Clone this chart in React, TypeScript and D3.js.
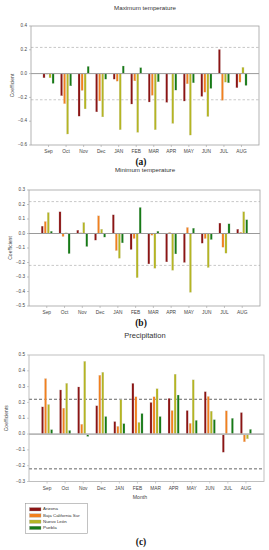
import React, { useEffect, useRef } from "react";
import * as d3 from "d3";

const months = ["Sep", "Oct", "Nov", "Dec", "JAN", "FEB", "MAR", "APR", "MAY", "JUN", "JUL", "AUG"];
const states = ["Arizona", "Baja California Sur", "Nuevo León", "Puebla"];
const colors = ["#8c1414", "#f2801e", "#b5b522", "#167a16"];

// values per month, ordered as in states
const maxTemp = [
  [-0.036, -0.005, -0.036, -0.083],
  [-0.186, -0.253, -0.508, -0.103],
  [-0.358, -0.142, -0.297, 0.061],
  [-0.322, -0.23, -0.364, -0.047],
  [-0.047, -0.064, -0.472, 0.064],
  [-0.256, -0.061, -0.494, 0.05],
  [-0.239, -0.183, -0.472, -0.069],
  [-0.242, -0.004, -0.419, -0.139],
  [-0.231, -0.086, -0.517, -0.078],
  [-0.192, -0.156, -0.361, -0.125],
  [0.203, -0.225, -0.072, -0.078],
  [-0.119, -0.072, 0.053, -0.1],
];

const minTemp = [
  [0.051, 0.083, 0.145, 0.016],
  [0.15, -0.021, 0.005, -0.139],
  [0.023, 0.005, 0.076, -0.09],
  [-0.046, 0.122, 0.03, -0.025],
  [0.129, -0.118, -0.171, -0.065],
  [-0.111, -0.035, -0.305, 0.18],
  [-0.21, -0.012, -0.24, 0.016],
  [-0.196, 0.007, -0.254, -0.141],
  [-0.2, 0.042, -0.406, 0.037],
  [-0.067, -0.035, -0.235, -0.042],
  [0.072, -0.095, -0.136, 0.067],
  [0.03, 0.009, 0.15, 0.095],
];

const precip = [
  [0.172, 0.351, 0.187, 0.028],
  [0.279, 0.164, 0.321, 0.023],
  [0.298, 0.062, 0.46, -0.015],
  [0.179, 0.372, 0.391, 0.111],
  [0.079, 0.049, 0.217, 0.066],
  [0.321, 0.236, 0.074, 0.13],
  [0.2, 0.236, 0.287, 0.111],
  [0.226, 0.149, 0.379, 0.247],
  [0.149, 0.068, 0.343, 0.087],
  [0.268, 0.238, 0.145, 0.091],
  [-0.115, 0.147, 0.002, 0.1],
  [0.136, -0.049, -0.03, 0.03],
];

const threshold = 0.22;

type Panel = {
  data: number[][];
  title: string;
  titleY: number;
  titleSize: number;
  letter: string;
  letterY: number;
  ylabel: string;
  ylabelX: number;
  left: number;
  right: number;
  top: number;
  bottom: number;
  domain: [number, number];
  step: number;
  frame: string;
  dash: string;
  zero: string;
  zeroWidth: number;
};

const panels: Panel[] = [
  {
    data: maxTemp, title: "Maximum temperature", titleY: 8, titleSize: 6.2, letter: "(a)", letterY: 165,
    ylabel: "Coefficient", ylabelX: 13, left: 31, right: 259, top: 26, bottom: 145,
    domain: [-0.6, 0.4], step: 0.2, frame: "#a0a0a0", dash: "#b0b0b0", zero: "#9a9a9a", zeroWidth: 1,
  },
  {
    data: minTemp, title: "Minimum temperature", titleY: 170, titleSize: 6.2, letter: "(b)", letterY: 326,
    ylabel: "Coefficient", ylabelX: 11, left: 29, right: 260, top: 190, bottom: 306,
    domain: [-0.5, 0.3], step: 0.1, frame: "#a0a0a0", dash: "#b0b0b0", zero: "#9a9a9a", zeroWidth: 1,
  },
  {
    data: precip, title: "Precipitation", titleY: 336, titleSize: 7.5, letter: "(c)", letterY: 545,
    ylabel: "Coefficients", ylabelX: 7, left: 29, right: 264, top: 355, bottom: 481.5,
    domain: [-0.3, 0.5], step: 0.1, frame: "#b0b0b0", dash: "#555555", zero: "#b8b8b8", zeroWidth: 1.8,
  },
];

export default function App() {
  const ref = useRef<SVGSVGElement>(null);

  useEffect(() => {
    const svg = d3.select(ref.current);
    svg.selectAll("*").remove();

    panels.forEach((p, pi) => {
      const g = svg.append("g");

      const x = d3.scalePoint<string>().domain(months).range([p.left, p.right]).padding(1);
      const x1 = d3.scaleBand<string>().domain(states).range([-5.6, 5.6]).paddingInner(0.3);
      const y = d3.scaleLinear().domain(p.domain).range([p.bottom, p.top]);
      const ticks = d3.range(p.domain[0], p.domain[1] + p.step / 2, p.step);

      // title
      g.append("text")
        .attr("x", 145).attr("y", p.titleY)
        .attr("text-anchor", "middle")
        .attr("dominant-baseline", "middle")
        .attr("font-family", "Liberation Sans, Arial, sans-serif")
        .attr("font-size", p.titleSize)
        .attr("fill", "#333")
        .text(p.title);

      // y axis ticks + labels
      ticks.forEach(t => {
        g.append("line")
          .attr("x1", p.left - 2).attr("x2", p.left)
          .attr("y1", y(t)).attr("y2", y(t))
          .attr("stroke", p.frame).attr("stroke-width", 0.6);
        g.append("text")
          .attr("x", p.left - 4).attr("y", y(t))
          .attr("text-anchor", "end")
          .attr("dominant-baseline", "middle")
          .attr("font-family", "Liberation Sans, Arial, sans-serif")
          .attr("font-size", 4.6)
          .attr("fill", "#444")
          .text(d3.format(".1f")(t));
      });

      // y label
      g.append("text")
        .attr("transform", `translate(${p.ylabelX}, ${(p.top + p.bottom) / 2}) rotate(-90)`)
        .attr("text-anchor", "middle")
        .attr("dominant-baseline", "middle")
        .attr("font-family", "Liberation Sans, Arial, sans-serif")
        .attr("font-size", 5)
        .attr("fill", "#444")
        .text(p.ylabel);

      // threshold lines
      [threshold, -threshold].forEach(v => {
        g.append("line")
          .attr("x1", p.left).attr("x2", p.right)
          .attr("y1", y(v)).attr("y2", y(v))
          .attr("stroke", p.dash)
          .attr("stroke-width", pi === 2 ? 0.9 : 0.7)
          .attr("stroke-dasharray", pi === 2 ? "3,2" : "2.5,2");
      });

      // bars
      p.data.forEach((row, mi) => {
        row.forEach((v, si) => {
          const bx = (x(months[mi]) as number) + (x1(states[si]) as number);
          g.append("rect")
            .attr("x", bx)
            .attr("y", y(Math.max(0, v)))
            .attr("width", x1.bandwidth())
            .attr("height", Math.abs(y(v) - y(0)))
            .attr("fill", colors[si])
            .attr("stroke", "#d8d8d8")
            .attr("stroke-width", 0.25);
        });
      });

      // zero line
      g.append("line")
        .attr("x1", p.left).attr("x2", p.right)
        .attr("y1", y(0)).attr("y2", y(0))
        .attr("stroke", p.zero).attr("stroke-width", p.zeroWidth);

      // frame
      g.append("rect")
        .attr("x", p.left).attr("y", p.top)
        .attr("width", p.right - p.left).attr("height", p.bottom - p.top)
        .attr("fill", "none")
        .attr("stroke", p.frame).attr("stroke-width", 0.8);

      // x ticks + month labels
      months.forEach(m => {
        g.append("line")
          .attr("x1", x(m) as number).attr("x2", x(m) as number)
          .attr("y1", p.bottom).attr("y2", p.bottom + 2)
          .attr("stroke", p.frame).attr("stroke-width", 0.6);
        g.append("text")
          .attr("x", x(m) as number).attr("y", p.bottom + 7)
          .attr("text-anchor", "middle")
          .attr("dominant-baseline", "middle")
          .attr("font-family", "Liberation Sans, Arial, sans-serif")
          .attr("font-size", 4.8)
          .attr("fill", "#444")
          .text(m);
      });

      if (pi === 2) {
        g.append("text")
          .attr("x", 140).attr("y", 498)
          .attr("text-anchor", "middle")
          .attr("dominant-baseline", "middle")
          .attr("font-family", "Liberation Sans, Arial, sans-serif")
          .attr("font-size", 5.2)
          .attr("fill", "#444")
          .text("Month");

        // legend
        const lg = g.append("g");
        lg.append("rect")
          .attr("x", 25.5).attr("y", 503.5).attr("width", 62).attr("height", 30)
          .attr("fill", "#fff").attr("stroke", "#999").attr("stroke-width", 0.6);
        states.forEach((s, i) => {
          const ly = 509.3 + i * 6.2;
          lg.append("rect")
            .attr("x", 29.5).attr("y", ly - 1.7).attr("width", 11.5).attr("height", 3.4)
            .attr("fill", colors[i]).attr("stroke", "#999").attr("stroke-width", 0.3);
          lg.append("text")
            .attr("x", 43).attr("y", ly)
            .attr("dominant-baseline", "middle")
            .attr("font-family", "Liberation Sans, Arial, sans-serif")
            .attr("font-size", 4.4)
            .attr("fill", "#333")
            .text(s);
        });
      }

      // panel letter
      g.append("text")
        .attr("x", 141).attr("y", p.letterY)
        .attr("text-anchor", "middle")
        .attr("font-family", "Liberation Serif, Times New Roman, serif")
        .attr("font-size", 9.5)
        .attr("font-weight", "bold")
        .attr("fill", "#111")
        .text(p.letter);
    });
  }, []);

  return (
    <svg
      ref={ref}
      width={269}
      height={550}
      style={{ position: "absolute", left: 0, top: 0, background: "#fff" }}
    />
  );
}
